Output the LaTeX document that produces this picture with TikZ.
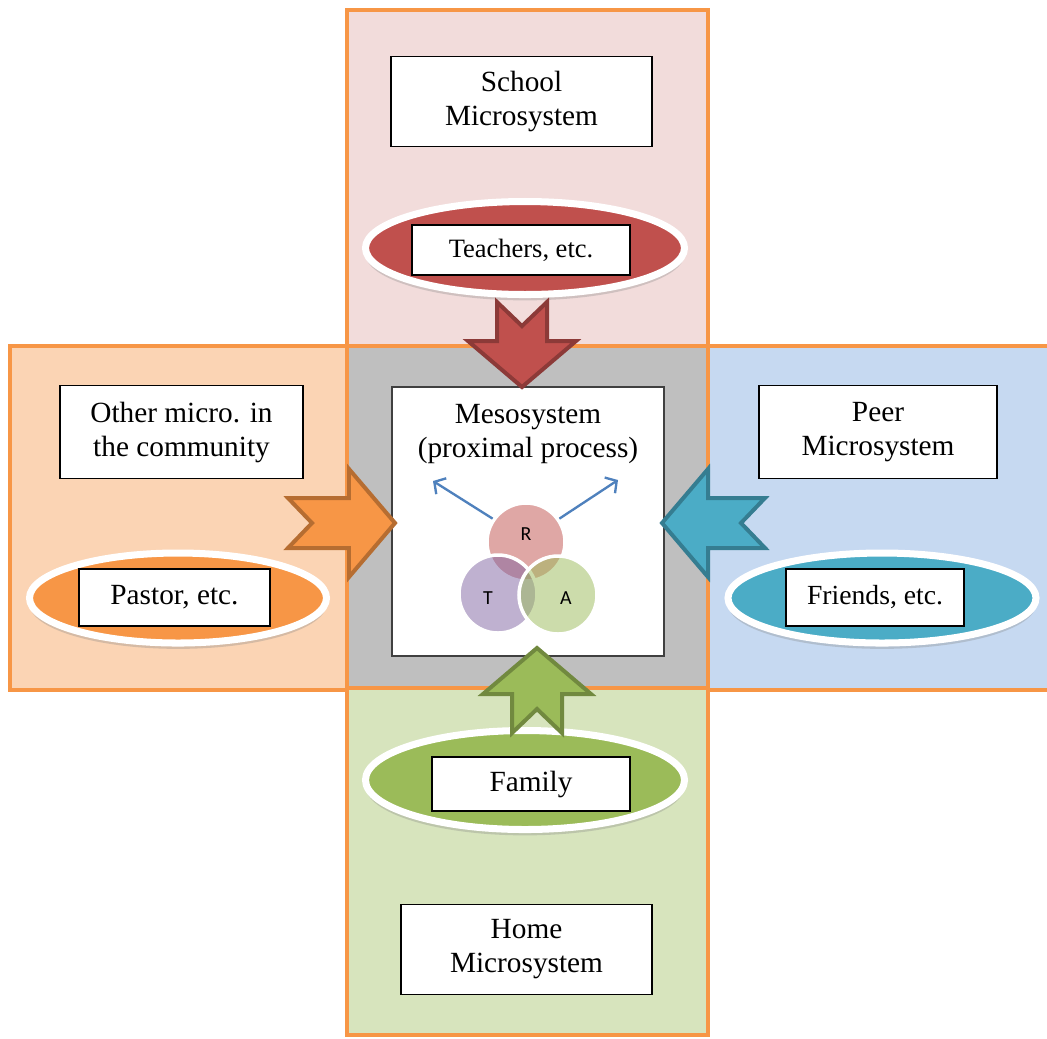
\documentclass[tikz,border=0pt]{standalone}
\usepackage{fontspec}
\setmainfont{Liberation Serif}
\newfontfamily\vennfont{Carlito}
\usetikzlibrary{positioning,shapes.geometric,shadows,arrows.meta}

\definecolor{zoneline}{HTML}{F79646}
\definecolor{schoolfill}{HTML}{F2DCDB}
\definecolor{otherfill}{HTML}{FBD4B4}
\definecolor{peerfill}{HTML}{C6D9F1}
\definecolor{homefill}{HTML}{D7E4BD}
\definecolor{mesofill}{HTML}{BFBFBF}
\definecolor{redacc}{HTML}{C0504D}
\definecolor{redline}{HTML}{8C3A38}
\definecolor{orangeacc}{HTML}{F79646}
\definecolor{orangeline}{HTML}{B66D31}
\definecolor{blueacc}{HTML}{4BACC6}
\definecolor{blueline}{HTML}{357D91}
\definecolor{greenacc}{HTML}{9BBB59}
\definecolor{greenline}{HTML}{71893F}
\definecolor{purpleacc}{HTML}{8064A2}
\definecolor{flowblue}{HTML}{4F81BD}

\tikzset{
  zone/.style={draw=zoneline, line width=1.7pt},
  labelbox/.style={draw, fill=white, line width=0.5pt, inner sep=0pt, align=center,
    font=\fontsize{12.5}{14.5}\selectfont},
  roleoval/.style={ellipse, draw=white, line width=3pt, inner sep=0pt,
    drop shadow={shadow xshift=0pt, shadow yshift=-2.5pt, opacity=0.3}},
  venn/.style={circle, minimum size=1.17cm, inner sep=0pt, draw=white, line width=1.5pt,
    fill opacity=0.5},
  vennlbl/.style={font=\vennfont\fontsize{8.5}{10}\selectfont},
  flow/.style={draw=flowblue, line width=1pt, -{Straight Barb[length=3.5pt, width=8pt]}},
  blockarrow/.style={line width=1.7pt, line join=miter},
  pics/notcharrow/.style={code={
    \draw[pic actions] (0,-25) -- (#1-46,-25) -- (#1-46,-54) -- (#1,0)
      -- (#1-46,54) -- (#1-46,25) -- (0,25) -- (24,0) -- cycle;
  }}
}

\begin{document}
\begin{tikzpicture}[x=0.015cm, y=-0.015cm]
  \clip (0,0) rectangle (1047,1038);

  \fill[schoolfill] (347,10) rectangle (708,346);
  \fill[otherfill] (10,346) rectangle (347,690);
  \fill[peerfill] (708,346) rectangle (1060,690);
  \fill[homefill] (347,688) rectangle (708,1035);
  \fill[mesofill] (347,346) rectangle (708,688);
  \draw[zone] (347,10) rectangle (708,346);
  \draw[zone] (10,346) rectangle (347,690);
  \draw[zone] (708,346) rectangle (1060,690);
  \draw[zone] (347,688) rectangle (708,1035);

  \node[labelbox, minimum width=3.915cm, minimum height=1.35cm] (school) at (521.5,101.5) {School\\Microsystem};
  \node[labelbox, minimum width=3.645cm, minimum height=1.395cm] (other) at (181.5,432) {Other micro. in\\the community};
  \node[labelbox, minimum width=3.57cm, minimum height=1.395cm] (peer) at (878,432) {Peer\\Microsystem};
  \node[labelbox, minimum width=3.765cm, minimum height=1.35cm] (home) at (526.5,949.5) {Home\\Microsystem};

  \node[roleoval, fill=redacc, minimum width=4.785cm, minimum height=1.395cm] (schooloval) at (525,248) {};
  \node[roleoval, fill=orangeacc, minimum width=4.455cm, minimum height=1.35cm] (otheroval) at (178,598) {};
  \node[roleoval, fill=blueacc, minimum width=4.62cm, minimum height=1.35cm] (peeroval) at (882,598) {};
  \node[roleoval, fill=greenacc, minimum width=4.785cm, minimum height=1.485cm] (homeoval) at (525,780) {};

  \node[labelbox, minimum width=3.27cm, minimum height=0.75cm, font=\fontsize{11.3}{13}\selectfont] (teachers) at (521,250) {Teachers, etc.};
  \node[labelbox, minimum width=2.865cm, minimum height=0.855cm] (pastor) at (174.5,597.5) {Pastor, etc.};
  \node[labelbox, minimum width=2.67cm, minimum height=0.855cm, font=\fontsize{11.8}{13.5}\selectfont] (friends) at (875,597.5) {Friends, etc.};
  \node[labelbox, minimum width=2.97cm, minimum height=0.81cm] (family) at (531,784) {Family};

  \node[draw=black!75, fill=white, line width=0.6pt, minimum width=4.08cm, minimum height=4.035cm] (meso) at (528,521.5) {};
  \node[align=center, font=\fontsize{12.5}{14.5}\selectfont] (mesotext) at (528,434) {Mesosystem\\(proximal process)};

  \node[venn, fill=redacc] (rcirc) at (526,542) {};
  \node[venn, fill=purpleacc] (tcirc) at (498,594) {};
  \node[venn, fill=greenacc] (acirc) at (558,595) {};
  \node[vennlbl] (rlbl) at (526,534) {R};
  \node[vennlbl] (tlbl) at (488,598) {T};
  \node[vennlbl] (albl) at (566,598) {A};

  \coordinate (flowleft) at (433,481);
  \coordinate (flowright) at (618,480);
  \draw[flow] (rcirc.145) -- (flowleft);
  \draw[flow] (rcirc.35) -- (flowright);

  \pic[blockarrow, fill=redacc, draw=redline, rotate=-90] at (522,302) {notcharrow=85};
  \pic[blockarrow, fill=orangeacc, draw=orangeline] at (288,523) {notcharrow=107};
  \pic[blockarrow, fill=blueacc, draw=blueline, rotate=180] at (765,523) {notcharrow=103};
  \pic[blockarrow, fill=greenacc, draw=greenline, rotate=90] at (537,733) {notcharrow=85};
\end{tikzpicture}
\end{document}
